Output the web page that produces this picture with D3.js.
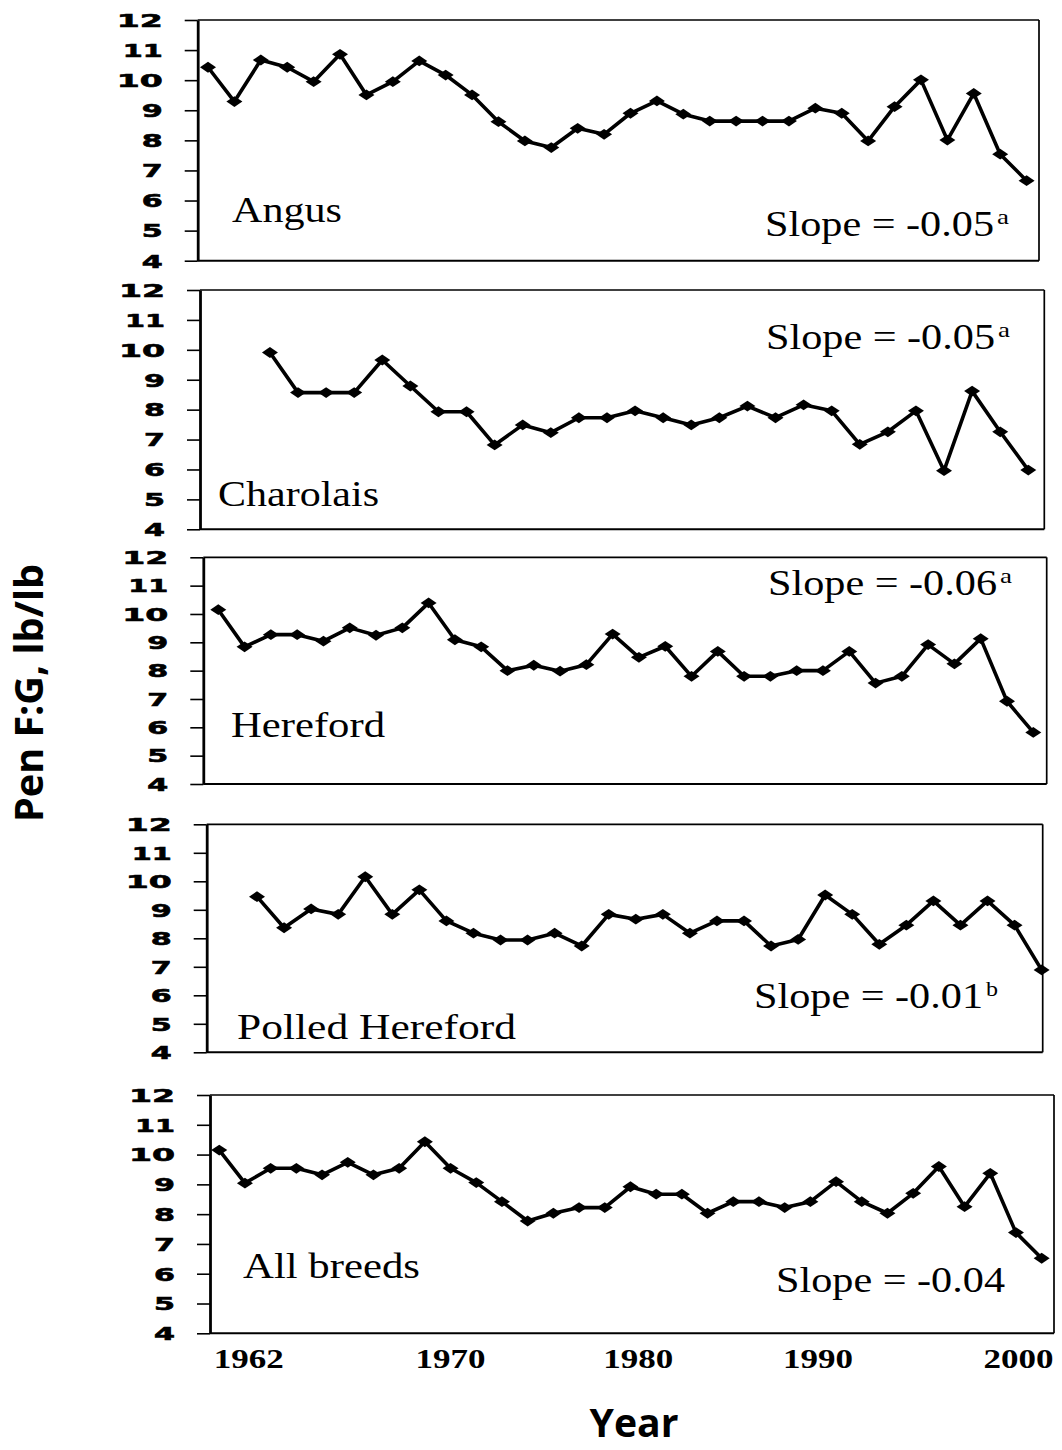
<!DOCTYPE html>
<html><head><meta charset="utf-8">
<script src="https://cdn.jsdelivr.net/npm/d3@7"></script>
<style>body{margin:0;background:#fff} svg{display:block}</style>
</head><body>
<svg id="chart" width="1062" height="1450"></svg>
<script>
// ---------- data ----------
const breeds = ["Angus", "Charolais", "Hereford", "Polled Hereford", "All breeds"];
const angus = [10.43, 9.29, 10.67, 10.43, 9.95, 10.86, 9.51, 9.95, 10.64, 10.17, 9.51, 8.62, 7.98, 7.76, 8.4, 8.2,
  8.9, 9.31, 8.87, 8.64, 8.64, 8.64, 8.64, 9.07, 8.9, 7.98, 9.12, 10.01, 8.01, 9.56, 7.54, 6.66];
const charolais = [9.91, 8.57, 8.57, 8.57, 9.66, 8.79, 7.93, 7.93, 6.82, 7.49, 7.23, 7.73, 7.73, 7.96,
  7.73, 7.49, 7.73, 8.12, 7.73, 8.16, 7.96, 6.84, 7.26, 7.96, 5.96, 8.62, 7.26, 5.98];
const hereford = [10.15, 8.84, 9.27, 9.27, 9.04, 9.51, 9.25, 9.51, 10.39, 9.09, 8.84, 8.0, 8.19, 7.98, 8.21, 9.29,
  8.47, 8.86, 7.8, 8.68, 7.8, 7.8, 8.0, 8.0, 8.68, 7.56, 7.8, 8.92, 8.24, 9.13, 6.92, 5.82];
const polledHereford = [9.46, 8.37, 9.03, 8.84, 10.16, 8.84, 9.7, 8.61, 8.18, 7.94, 7.94, 8.18, 7.73, 8.84,
  8.67, 8.84, 8.18, 8.61, 8.61, 7.73, 7.96, 9.52, 8.84, 7.79, 8.46, 9.31, 8.46, 9.31, 8.46, 6.89];
const allBreeds = [10.15, 9.04, 9.54, 9.54, 9.32, 9.74, 9.32, 9.54, 10.43, 9.54, 9.06, 8.42, 7.77, 8.03, 8.22, 8.22,
  8.92, 8.67, 8.67, 8.03, 8.42, 8.42, 8.22, 8.42, 9.09, 8.42, 8.03, 8.7, 9.6, 8.25, 9.37, 7.38, 6.52];
const series = [angus, charolais, hereford, polledHereford, allBreeds];
const slopeText = ["Slope = -0.05", "Slope = -0.05", "Slope = -0.06", "Slope = -0.01", "Slope = -0.04"];
const slopeSup = ["a", "a", "a", "b", ""];
const yTicks = [4, 5, 6, 7, 8, 9, 10, 11, 12];
const yearLabels = ["1962", "1970", "1980", "1990", "2000"];
const yearIndex = [1.15, 9.0, 16.3, 23.3, 31.1];   // position along the All-breeds point index
const yTitle = "Pen F:G, lb/lb";
const xTitle = "Year";

// ---------- layout ----------
const panels = [
  {l: 197.7, r: 1039,   t: 20,    b: 260.7,  padL: 0.39, padR: 0.47, nameX: 232, nameY: 222, nameW: 110, slopeX: 765, slopeY: 236},
  {l: 200,   r: 1044.3, t: 290,   b: 529.3,  padL: 2.49, padR: 0.57, nameX: 218, nameY: 506, nameW: 161, slopeX: 766, slopeY: 349},
  {l: 203.3, r: 1046.7, t: 557.3, b: 784,    padL: 0.57, padR: 0.51, nameX: 231, nameY: 737, nameW: 154, slopeX: 768, slopeY: 595},
  {l: 206.7, r: 1042.7, t: 824.3, b: 1052.3, padL: 1.86, padR: 0.04, nameX: 237, nameY: 1039, nameW: 279, slopeX: 754, slopeY: 1008},
  {l: 210,   r: 1054,   t: 1095,  b: 1333.3, padL: 0.36, padR: 0.48, nameX: 243, nameY: 1278, nameW: 177, slopeX: 776, slopeY: 1292}
];

const svg = d3.select("#chart");
const serif = "'Liberation Serif','Times New Roman',serif";
const diamond = "M0,-5.4L8,0L0,5.4L-8,0Z";
let lastX = null;

panels.forEach((p, k) => {
  const vals = series[k];
  const x = d3.scaleLinear().domain([-p.padL, vals.length - 1 + p.padR]).range([p.l, p.r]);
  const y = d3.scaleLinear().domain([4, 12]).range([p.b, p.t]);
  if (k === panels.length - 1) lastX = x;
  const g = svg.append("g");

  // frame: top, bottom, right
  g.append("line").attr("x1", p.l).attr("x2", p.r).attr("y1", y(12)).attr("y2", y(12))
    .attr("stroke", "#000").attr("stroke-width", 1.7);
  g.append("line").attr("x1", p.l).attr("x2", p.r).attr("y1", y(4)).attr("y2", y(4))
    .attr("stroke", "#000").attr("stroke-width", 2);
  g.append("line").attr("x1", p.r).attr("x2", p.r).attr("y1", y(12)).attr("y2", y(4))
    .attr("stroke", "#000").attr("stroke-width", 1.7);

  // left axis
  const ax = g.append("g").attr("transform", `translate(${p.l},0)`)
    .call(d3.axisLeft(y).tickValues(yTicks).tickSize(13).tickSizeOuter(0));
  ax.select(".domain").attr("stroke-width", 2.8);
  ax.selectAll(".tick line").attr("stroke-width", 1.6);
  ax.selectAll(".tick text")
    .attr("x", -35)
    .attr("dy", "0.36em")
    .attr("font-family", "'DejaVu Sans',sans-serif")
    .attr("font-weight", "900")
    .attr("font-size", 17.5)
    .attr("fill", "#000")
    .attr("stroke", "#000").attr("stroke-width", 0.6)
    .attr("lengthAdjust", "spacingAndGlyphs")
    .attr("textLength", d => d === 11 ? 40 : (d >= 10 ? 46 : 21));

  // line + markers
  const line = d3.line().x((d, i) => x(i)).y(d => y(d));
  g.append("path").datum(vals).attr("d", line)
    .attr("fill", "none").attr("stroke", "#000").attr("stroke-width", 3.6).attr("stroke-linejoin", "round");
  g.selectAll(".pt").data(vals).join("path").attr("class", "pt")
    .attr("d", diamond)
    .attr("transform", (d, i) => `translate(${x(i)},${y(d)})`)
    .attr("fill", "#000");

  // breed name
  g.append("text").text(breeds[k])
    .attr("x", p.nameX).attr("y", p.nameY)
    .attr("font-family", serif).attr("font-size", 35)
    .attr("lengthAdjust", "spacingAndGlyphs").attr("textLength", p.nameW);

  // slope
  g.append("text").text(slopeText[k])
    .attr("x", p.slopeX).attr("y", p.slopeY)
    .attr("font-family", serif).attr("font-size", 35)
    .attr("lengthAdjust", "spacingAndGlyphs").attr("textLength", 229);
  if (slopeSup[k]) {
    g.append("text").text(slopeSup[k])
      .attr("x", p.slopeX + 232).attr("y", p.slopeY - 12)
      .attr("font-family", serif).attr("font-size", 21)
      .attr("lengthAdjust", "spacingAndGlyphs").attr("textLength", 12);
  }
});

// year labels
svg.append("g").selectAll("text").data(yearLabels).join("text")
  .text(d => d)
  .attr("x", (d, i) => lastX(yearIndex[i]))
  .attr("y", 1368)
  .attr("text-anchor", "middle")
  .attr("font-family", serif).attr("font-weight", "bold").attr("font-size", 28)
  .attr("lengthAdjust", "spacingAndGlyphs").attr("textLength", 70);

// axis titles
svg.append("text").text(xTitle)
  .attr("x", 634).attr("y", 1437).attr("text-anchor", "middle")
  .attr("font-family", "'Open Sans',sans-serif").attr("font-weight", "bold").attr("font-size", 40)
  .attr("lengthAdjust", "spacingAndGlyphs").attr("textLength", 89);
svg.append("text").text(yTitle)
  .attr("transform", "translate(43,693) rotate(-90)").attr("text-anchor", "middle")
  .attr("font-family", "'Open Sans',sans-serif").attr("font-weight", "bold").attr("font-size", 40)
  .attr("lengthAdjust", "spacingAndGlyphs").attr("textLength", 258);
</script>
</body></html>
